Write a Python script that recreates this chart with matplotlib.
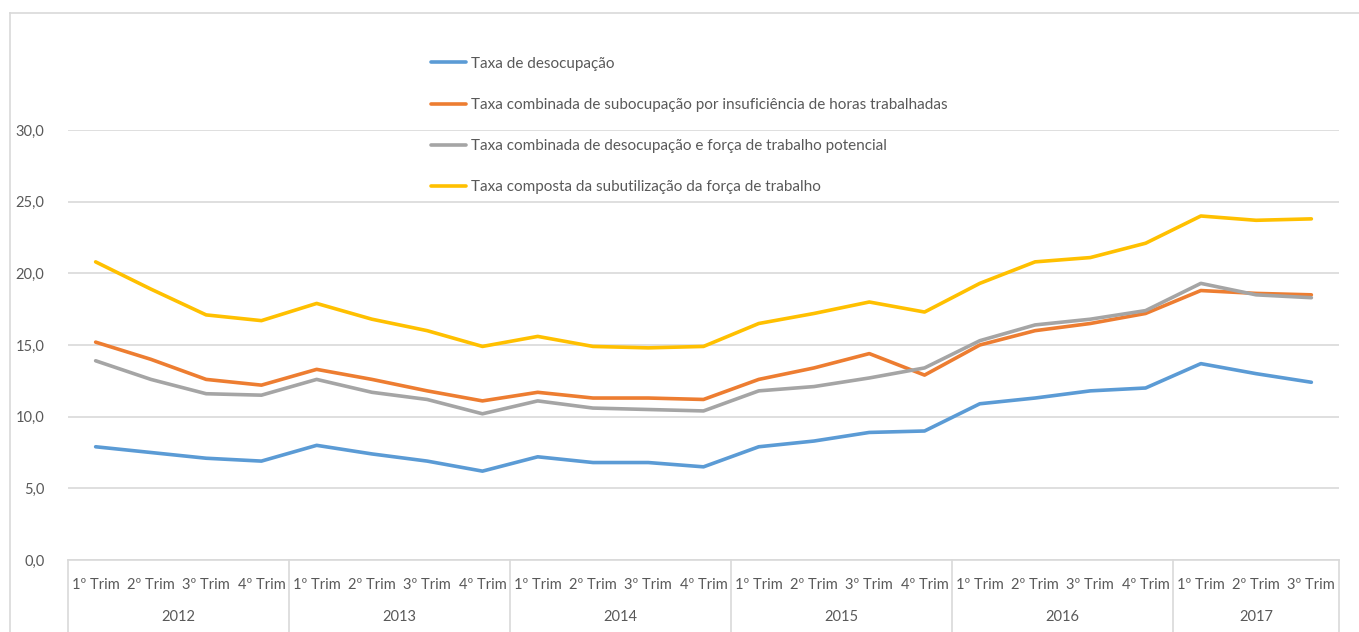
import matplotlib.pyplot as plt
from matplotlib.lines import Line2D
from matplotlib.ticker import FuncFormatter

plt.rcParams['font.family'] = ['Lato', 'DejaVu Sans']

# quarterly rates, %, 2012 Q1 - 2017 Q3
years = ['2012', '2013', '2014', '2015', '2016', '2017']
quarters = ['1º Trim', '2º Trim', '3º Trim', '4º Trim'] * 5 + ['1º Trim', '2º Trim', '3º Trim']

desocupacao = [7.9, 7.5, 7.1, 6.9, 8.0, 7.4, 6.9, 6.2, 7.2, 6.8, 6.8, 6.5,
               7.9, 8.3, 8.9, 9.0, 10.9, 11.3, 11.8, 12.0, 13.7, 13.0, 12.4]
subocupacao = [15.2, 14.0, 12.6, 12.2, 13.3, 12.6, 11.8, 11.1, 11.7, 11.3, 11.3, 11.2,
               12.6, 13.4, 14.4, 12.9, 15.0, 16.0, 16.5, 17.2, 18.8, 18.6, 18.5]
desoc_potencial = [13.9, 12.6, 11.6, 11.5, 12.6, 11.7, 11.2, 10.2, 11.1, 10.6, 10.5, 10.4,
                   11.8, 12.1, 12.7, 13.4, 15.3, 16.4, 16.8, 17.4, 19.3, 18.5, 18.3]
subutilizacao = [20.8, 18.9, 17.1, 16.7, 17.9, 16.8, 16.0, 14.9, 15.6, 14.9, 14.8, 14.9,
                 16.5, 17.2, 18.0, 17.3, 19.3, 20.8, 21.1, 22.1, 24.0, 23.7, 23.8]

labels = ['Taxa de desocupação',
          'Taxa combinada de subocupação por insuficiência de horas trabalhadas',
          'Taxa combinada de desocupação e força de trabalho potencial',
          'Taxa composta da subutilização da força de trabalho']
colors = ['#5B9BD5', '#ED7D31', '#A5A5A5', '#FFC000']

W, H = 1359, 632
fig = plt.figure(figsize=(W / 100, H / 100), dpi=100)
ax = fig.add_axes([68 / W, 1 - 560 / H, (1339 - 68) / W, (560 - 130) / H])

x = list(range(len(quarters)))
for series, lab, c in zip([desocupacao, subocupacao, desoc_potencial, subutilizacao], labels, colors):
    ax.plot(x, series, color=c, lw=2.6, label=lab, solid_capstyle='round', solid_joinstyle='round')

ax.set_xlim(-0.5, len(quarters) - 0.5)
ax.set_ylim(0, 30)
ax.set_yticks([0, 5, 10, 15, 20, 25, 30])
ax.yaxis.set_major_formatter(FuncFormatter(lambda v, p: f'{v:.1f}'.replace('.', ',')))
ax.grid(axis='y', color='#D9D9D9', lw=1.2)
ax.set_axisbelow(True)
for s in ['left', 'right', 'top']:
    ax.spines[s].set_visible(False)
ax.spines['bottom'].set_color('#D9D9D9')
ax.spines['bottom'].set_linewidth(1.2)

ax.set_xticks(x)
ax.set_xticklabels(quarters)
ax.tick_params(axis='x', length=0, pad=13, labelsize=10.5, labelcolor='#595959')
ax.tick_params(axis='y', length=0, pad=17, labelsize=10.5, labelcolor='#595959')

# year group labels and separators below the axis
trans = ax.get_xaxis_transform()
ybot = -(H - 560) / (560 - 130)
for i, yr in enumerate(years):
    start = i * 4 - 0.5
    end = min(start + 4, len(quarters) - 0.5)
    ax.text((start + end) / 2, -(617 - 560) / (560 - 130), yr, transform=trans,
            ha='center', va='center', fontsize=10.5, color='#595959')
for b in [-0.5, 3.5, 7.5, 11.5, 15.5, 19.5, len(quarters) - 0.5]:
    ax.plot([b, b], [0, ybot], transform=trans, color='#D9D9D9', lw=1.2, clip_on=False)

ax.legend(loc='upper left', bbox_to_anchor=(417 / W, 1 - 43 / H), bbox_transform=fig.transFigure,
          frameon=False, fontsize=11, labelcolor='#595959', handlelength=2.3,
          handletextpad=0.35, labelspacing=1.78)

# outer chart border
fig.add_artist(Line2D([10 / W, 10 / W], [0, 1 - 13 / H], color='#D9D9D9', lw=1.2))
fig.add_artist(Line2D([10 / W, 1], [1 - 13 / H, 1 - 13 / H], color='#D9D9D9', lw=1.2))

fig.savefig('out.png', dpi=100)
